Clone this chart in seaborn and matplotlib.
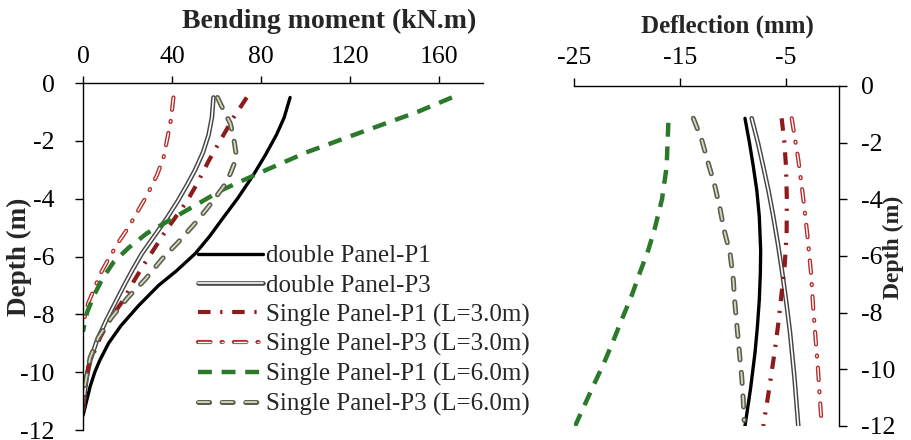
import matplotlib
matplotlib.use("Agg")
import matplotlib.pyplot as plt
import matplotlib.patheffects as pe
import pandas as pd
import seaborn as sns

# ---------------- data ----------------
series_names = [
    "double Panel-P1",
    "double Panel-P3",
    "Single Panel-P1 (L=3.0m)",
    "Single Panel-P3 (L=3.0m)",
    "Single Panel-P1 (L=6.0m)",
    "Single Panel-P3 (L=6.0m)",
]

# Bending moment (kN.m) versus depth (m)
bm_depth_dp1 = [-0.5, -1.2, -1.8, -2.5, -3.2, -4.0, -4.7, -5.3, -5.9, -6.5, -7.0,
                -7.7, -8.4, -9.0, -9.6, -10.0, -10.5, -11.0, -11.5]
bm_dp1 = [93.2, 90.5, 87.0, 82.0, 76.5, 69.5, 62.7, 57.0, 50.5, 42.0, 34.0,
          25.0, 17.0, 11.5, 7.5, 5.3, 3.2, 1.6, 0.0]

bm_depth_dp3 = [-0.5, -1.2, -1.8, -2.4, -3.0, -3.5, -4.1, -4.7, -5.3, -5.9, -6.5,
                -7.0, -7.6, -8.2, -8.9, -9.6, -10.2, -10.8, -11.3]
bm_dp3 = [58.7, 58.0, 56.5, 54.0, 50.5, 47.0, 42.5, 37.5, 32.0, 26.5, 22.0,
          18.5, 14.5, 10.5, 6.3, 3.2, 1.6, 0.6, 0.0]

bm_depth_sp1_3 = [-0.5, -1.2, -2.0, -2.7, -3.5, -4.1, -4.6, -5.2, -5.8, -6.3, -6.9,
                  -7.5, -8.1, -8.8, -9.8, -10.5, -11.4]
bm_sp1_3 = [73.7, 67.7, 61.7, 56.5, 51.2, 46.7, 42.0, 36.5, 31.5, 27.2, 22.5,
            18.2, 12.8, 7.7, 2.4, 1.0, 0.0]

bm_depth_sp3_3 = [-0.5, -1.3, -1.9, -2.6, -3.2, -3.9, -4.4, -5.0, -5.5, -6.1, -6.6,
                  -7.2, -7.6, -8.0, -8.4]
bm_sp3_3 = [40.7, 39.5, 38.0, 36.2, 33.2, 28.7, 24.9, 20.4, 16.0, 11.4, 7.8,
            4.6, 2.4, 1.0, 0.0]

bm_depth_sp1_6 = [-0.5, -1.0, -1.5, -2.0, -2.4, -3.1, -3.7, -4.4, -5.2, -5.7, -6.2,
                  -6.8, -7.4, -7.9, -8.2, -8.6]
bm_sp1_6 = [166.0, 150.5, 132.5, 114.6, 100.5, 79.7, 62.5, 46.7, 28.7, 20.5, 13.7,
            8.5, 4.6, 2.0, 1.0, 0.0]

bm_depth_sp3_6 = [-0.5, -0.9, -1.4, -1.9, -2.4, -2.7, -3.1, -3.5, -4.1, -4.8, -5.5,
                  -6.1, -6.8, -7.4, -8.1, -8.8, -9.5, -10.4, -11.0]
bm_sp3_6 = [60.5, 63.0, 66.3, 67.8, 68.8, 68.5, 66.5, 64.0, 58.3, 51.0, 42.9,
            35.4, 27.9, 20.4, 12.9, 6.9, 3.2, 1.0, 0.0]

# Deflection (mm) versus depth (m)
df_depth_dp1 = [-1.14, -2.0, -2.85, -3.7, -4.6, -5.8, -6.6, -7.55, -8.5, -9.4, -10.7, -12.0]
df_dp1 = [-8.87, -8.45, -8.08, -7.75, -7.52, -7.39, -7.42, -7.52, -7.70, -7.92, -8.35, -8.87]

df_depth_dp3 = [-1.14, -2.0, -2.85, -3.7, -4.6, -5.6, -6.7, -7.7, -8.7, -10.3, -12.0]
df_dp3 = [-8.24, -7.65, -7.14, -6.65, -6.20, -5.75, -5.31, -4.95, -4.62, -4.20, -3.84]

df_depth_sp1_3 = [-1.14, -2.0, -2.85, -4.0, -5.2, -6.3, -7.3, -8.3, -9.3, -10.6, -12.0]
df_sp1_3 = [-5.41, -5.15, -5.00, -4.92, -4.94, -5.12, -5.41, -5.70, -6.04, -6.55, -7.14]

df_depth_sp3_3 = [-1.14, -2.6, -4.0, -5.2, -6.6, -7.9, -9.9, -12.0]
df_sp3_3 = [-4.46, -3.84, -3.36, -3.00, -2.64, -2.42, -2.00, -1.63]

df_depth_sp1_6 = [-1.3, -2.85, -4.0, -5.0, -5.8, -6.6, -7.4, -8.25, -9.0, -9.8, -10.6, -12.0]
df_sp1_6 = [-16.1, -16.26, -16.7, -17.36, -18.0, -18.8, -19.56, -20.5, -21.3, -22.2, -23.2, -24.9]

df_depth_sp3_6 = [-1.14, -1.9, -2.73, -3.55, -4.37, -5.0, -5.9, -6.84, -7.55, -8.5, -9.4, -10.25, -11.1, -11.8]
df_sp3_6 = [-13.74, -12.95, -12.33, -11.70, -11.20, -10.90, -10.28, -9.97, -9.85, -9.62, -9.40, -9.18, -9.03, -8.95]

bm_ticks = [0, 40, 80, 120, 160]
df_ticks = [-25, -15, -5]
depth_ticks = [0, -2, -4, -6, -8, -10, -12]

moment_sets = [(bm_depth_dp1, bm_dp1), (bm_depth_dp3, bm_dp3),
               (bm_depth_sp1_3, bm_sp1_3), (bm_depth_sp3_3, bm_sp3_3),
               (bm_depth_sp1_6, bm_sp1_6), (bm_depth_sp3_6, bm_sp3_6)]
deflection_sets = [(df_depth_dp1, df_dp1), (df_depth_dp3, df_dp3),
                   (df_depth_sp1_3, df_sp1_3), (df_depth_sp3_3, df_sp3_3),
                   (df_depth_sp1_6, df_sp1_6), (df_depth_sp3_6, df_sp3_6)]

# ---------------- styling ----------------
sns.set_theme(style="ticks")
plt.rcParams["font.family"] = ["Liberation Serif", "DejaVu Serif"]
plt.rcParams["lines.scale_dashes"] = False
plt.rcParams["axes.linewidth"] = 1.0
plt.rcParams["axes.unicode_minus"] = False


def outlined(edge, width):
    return [pe.Stroke(linewidth=width, foreground=edge), pe.Normal()]


line_styles = {
    "double Panel-P1": dict(color="black", lw=2.4, linestyle="-"),
    "double Panel-P3": dict(color="white", lw=1.2, linestyle="-",
                            path_effects=outlined("#454545", 3.3)),
    "Single Panel-P1 (L=3.0m)": dict(color="#8e1b1b", lw=3.0,
                                     linestyle=(0, (9, 7, 1.6, 7))),
    "Single Panel-P3 (L=3.0m)": dict(color="white", lw=1.0,
                                     linestyle=(0, (9, 8, 0.8, 8)),
                                     dash_capstyle="round",
                                     path_effects=outlined("#b52c2c", 3.0)),
    "Single Panel-P1 (L=6.0m)": dict(color="#2b7a2b", lw=3.2,
                                     linestyle=(0, (10, 7))),
    "Single Panel-P3 (L=6.0m)": dict(color="#d6d9c6", lw=1.3,
                                     linestyle=(0, (8, 9)),
                                     dash_capstyle="round",
                                     path_effects=outlined("#5b5e4a", 3.6)),
}

fig = plt.figure(figsize=(9.12, 4.40), dpi=100)
ax1 = fig.add_axes([83 / 912, 1 - 430 / 440, 400 / 912, 347 / 440])
ax2 = fig.add_axes([574 / 912, 1 - 426 / 440, 265 / 912, 340 / 440])

for name, (dep, val) in zip(series_names, moment_sets):
    frame = pd.DataFrame({"moment": val, "depth": dep})
    sns.lineplot(data=frame, x="moment", y="depth", ax=ax1, sort=False,
                 estimator=None, label=name, **line_styles[name])

for name, (dep, val) in zip(series_names, deflection_sets):
    frame = pd.DataFrame({"deflection": val, "depth": dep})
    sns.lineplot(data=frame, x="deflection", y="depth", ax=ax2, sort=False,
                 estimator=None, legend=False, **line_styles[name])

# left panel: bending moment
ax1.set_xlim(0, 180)
ax1.set_ylim(-12, 0)
ax1.xaxis.tick_top()
ax1.set_xticks(bm_ticks)
ax1.set_yticks(depth_ticks)
ax1.spines["right"].set_visible(False)
ax1.spines["bottom"].set_visible(False)
ax1.tick_params(axis="x", direction="out", length=5, width=1, labelsize=18.5,
                pad=6, colors="black")
ax1.tick_params(axis="y", direction="out", length=5.5, width=1, labelsize=18.5,
                pad=15, colors="black")
ax1.set_xlabel("")
ax1.set_ylabel("Depth (m)", fontsize=19.5, fontweight="bold")
ax1.yaxis.set_label_coords(-0.128, 0.5)

# right panel: deflection
ax2.set_xlim(-25, 0)
ax2.set_ylim(-12, 0)
ax2.xaxis.tick_top()
ax2.yaxis.tick_right()
ax2.set_xticks(df_ticks)
ax2.set_yticks(depth_ticks)
ax2.spines["left"].set_visible(False)
ax2.spines["bottom"].set_visible(False)
ax2.tick_params(axis="x", direction="out", length=5.5, width=1, labelsize=18.5,
                pad=7, colors="black")
ax2.tick_params(axis="y", direction="out", length=5.5, width=1, labelsize=18.5,
                pad=10, colors="black")
ax2.set_xlabel("")
ax2.yaxis.set_label_position("right")
ax2.set_ylabel("Depth (m)", fontsize=17, fontweight="bold", rotation=90)
ax2.yaxis.set_label_coords(1.166, 0.524)

for sp in list(ax1.spines.values()) + list(ax2.spines.values()):
    sp.set_color("black")

fig.text(329 / 912, 1 - 21 / 440, "Bending moment (kN.m)", ha="center",
         va="center", fontsize=20, fontweight="bold")
fig.text(727 / 912, 1 - 26 / 440, "Deflection (mm)", ha="center",
         va="center", fontsize=18, fontweight="bold")

handles, labels = ax1.get_legend_handles_labels()
ax1.legend(handles, labels, loc="upper left",
           bbox_to_anchor=(198 / 912, 1 - 245 / 440),
           bbox_transform=fig.transFigure, frameon=False, fontsize=18,
           handlelength=2.6, handletextpad=0.12, labelspacing=0.27,
           borderpad=0, borderaxespad=0)

fig.savefig("out.png", dpi=100)
